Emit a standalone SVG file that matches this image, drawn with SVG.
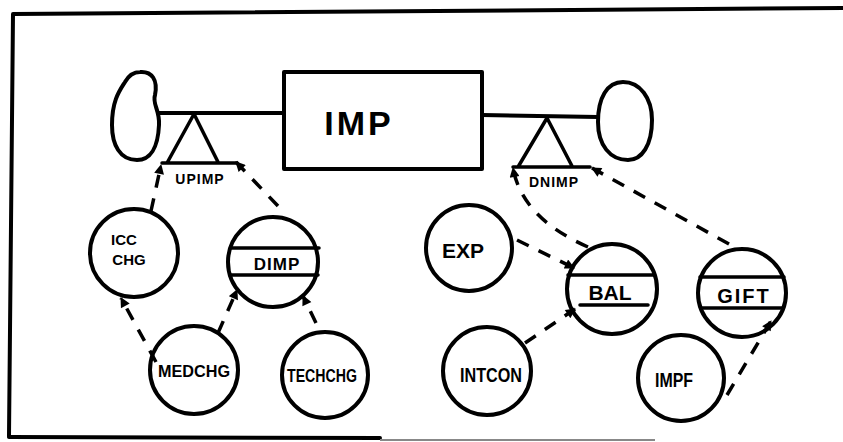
<svg xmlns="http://www.w3.org/2000/svg" width="843" height="442" viewBox="0 0 843 442">
<style>
.s{fill:none;stroke:#000;stroke-width:4;stroke-linecap:round;stroke-linejoin:round}
.c{fill:#fff;stroke:#000;stroke-width:4}
.b{fill:none;stroke:#000;stroke-width:3.5;stroke-linecap:round}
.d{fill:none;stroke:#000;stroke-width:3.5;stroke-dasharray:13 11;marker-end:url(#ah)}
.t{font-family:"Liberation Sans",Arial,sans-serif;font-weight:bold;fill:#000;text-anchor:middle}
</style>
<defs>
<marker id="ah" viewBox="0 0 10 10" refX="9" refY="5" markerWidth="12" markerHeight="10" markerUnits="userSpaceOnUse" orient="auto">
<path d="M0,0 L10,5 L0,10 z" fill="#000"/>
</marker>
</defs>
<rect width="843" height="442" fill="#fff"/>
<g id="frame">
<path d="M9,436 L13,14 L843,8" class="s" stroke-width="5"/>
<path d="M9,437 L380,438" class="s" stroke-width="4.5"/>
<path d="M380,440 L655,440" fill="none" stroke="#888" stroke-width="2"/>
</g>
<g id="imp">
<rect x="284" y="72" width="198" height="97" class="s" fill="#fff"/>
<text x="359" y="135" class="t" font-size="34" letter-spacing="3">IMP</text>
</g>
<g id="source">
<path d="M140,72 C152,71 158,80 155,95 C152,104 160,110 159,125 C158,148 150,160 137,160 C120,160 112,145 112,125 C112,100 120,90 125,82 C129,75 134,72 140,72 Z" class="s"/>
</g>
<g id="sink">
<path d="M623,82 C640,82 652,98 652,120 C652,145 642,160 628,160 C610,160 598,145 598,122 C598,98 607,82 623,82 Z" class="s"/>
</g>
<g id="flows">
<path d="M158,113 L284,113" class="s"/>
<path d="M482,115 L598,117" class="s"/>
</g>
<g id="upimp">
<path d="M194,114 L167,163 M194,114 L218,162 M162,163 L237,163" class="b"/>
<text x="200" y="184" class="t" font-size="14" letter-spacing="1">UPIMP</text>
</g>
<g id="dnimp">
<path d="M547,118 L518,167 M547,118 L572,166 M513,167 L590,167" class="b"/>
<text x="554" y="187" class="t" font-size="14" letter-spacing="1">DNIMP</text>
</g>
<g id="iccchg">
<circle cx="134" cy="253" r="44" class="c"/>
<text x="124" y="245" class="t" font-size="15">ICC</text>
<text x="129" y="265" class="t" font-size="15">CHG</text>
</g>
<g id="dimp">
<circle cx="273" cy="262" r="45" class="c"/>
<path d="M231,248 L319,248 M230,275 L318,275" class="b" stroke-width="5"/>
<text x="277" y="270" class="t" font-size="17" letter-spacing="1">DIMP</text>
</g>
<g id="medchg">
<circle cx="194" cy="370" r="44" class="c"/>
<text x="194" y="377" class="t" font-size="17" textLength="72" lengthAdjust="spacingAndGlyphs">MEDCHG</text>
</g>
<g id="techchg">
<circle cx="325" cy="375" r="43" class="c"/>
<text x="322" y="382" class="t" font-size="18" textLength="70" lengthAdjust="spacingAndGlyphs">TECHCHG</text>
</g>
<g id="exp">
<circle cx="469" cy="248" r="43" class="c"/>
<text x="463" y="258" class="t" font-size="21">EXP</text>
</g>
<g id="bal">
<circle cx="612" cy="289" r="45" class="c"/>
<path d="M568,275 L654,275 M580,305 L648,305" class="b"/>
<text x="610" y="300" class="t" font-size="21">BAL</text>
</g>
<g id="gift">
<circle cx="742" cy="293" r="44" class="c"/>
<path d="M700,277 L784,277 M701,308 L783,308" class="b"/>
<text x="744" y="303" class="t" font-size="20" letter-spacing="2">GIFT</text>
</g>
<g id="intcon">
<circle cx="487" cy="371" r="44" class="c"/>
<text x="491" y="382" class="t" font-size="21" textLength="62" lengthAdjust="spacingAndGlyphs">INTCON</text>
</g>
<g id="impf">
<circle cx="681" cy="378" r="43" class="c"/>
<text x="674" y="387" class="t" font-size="21" textLength="38" lengthAdjust="spacingAndGlyphs">IMPF</text>
</g>
<g id="connectors">
<path d="M151,211 L161,165" class="d"/>
<path d="M278,206 L236,162" class="d"/>
<path d="M156,362 L121,298" class="d"/>
<path d="M218,333 L237,290" class="d"/>
<path d="M316,323 L303,296" class="d"/>
<path d="M517,240 L574,268" class="d"/>
<path d="M525,343 L575,309" class="d"/>
<path d="M727,395 L771,321" class="d"/>
<path d="M588,247 Q522,218 513,168" class="d"/>
<path d="M729,244 L592,168" class="d"/>
</g>
</svg>
